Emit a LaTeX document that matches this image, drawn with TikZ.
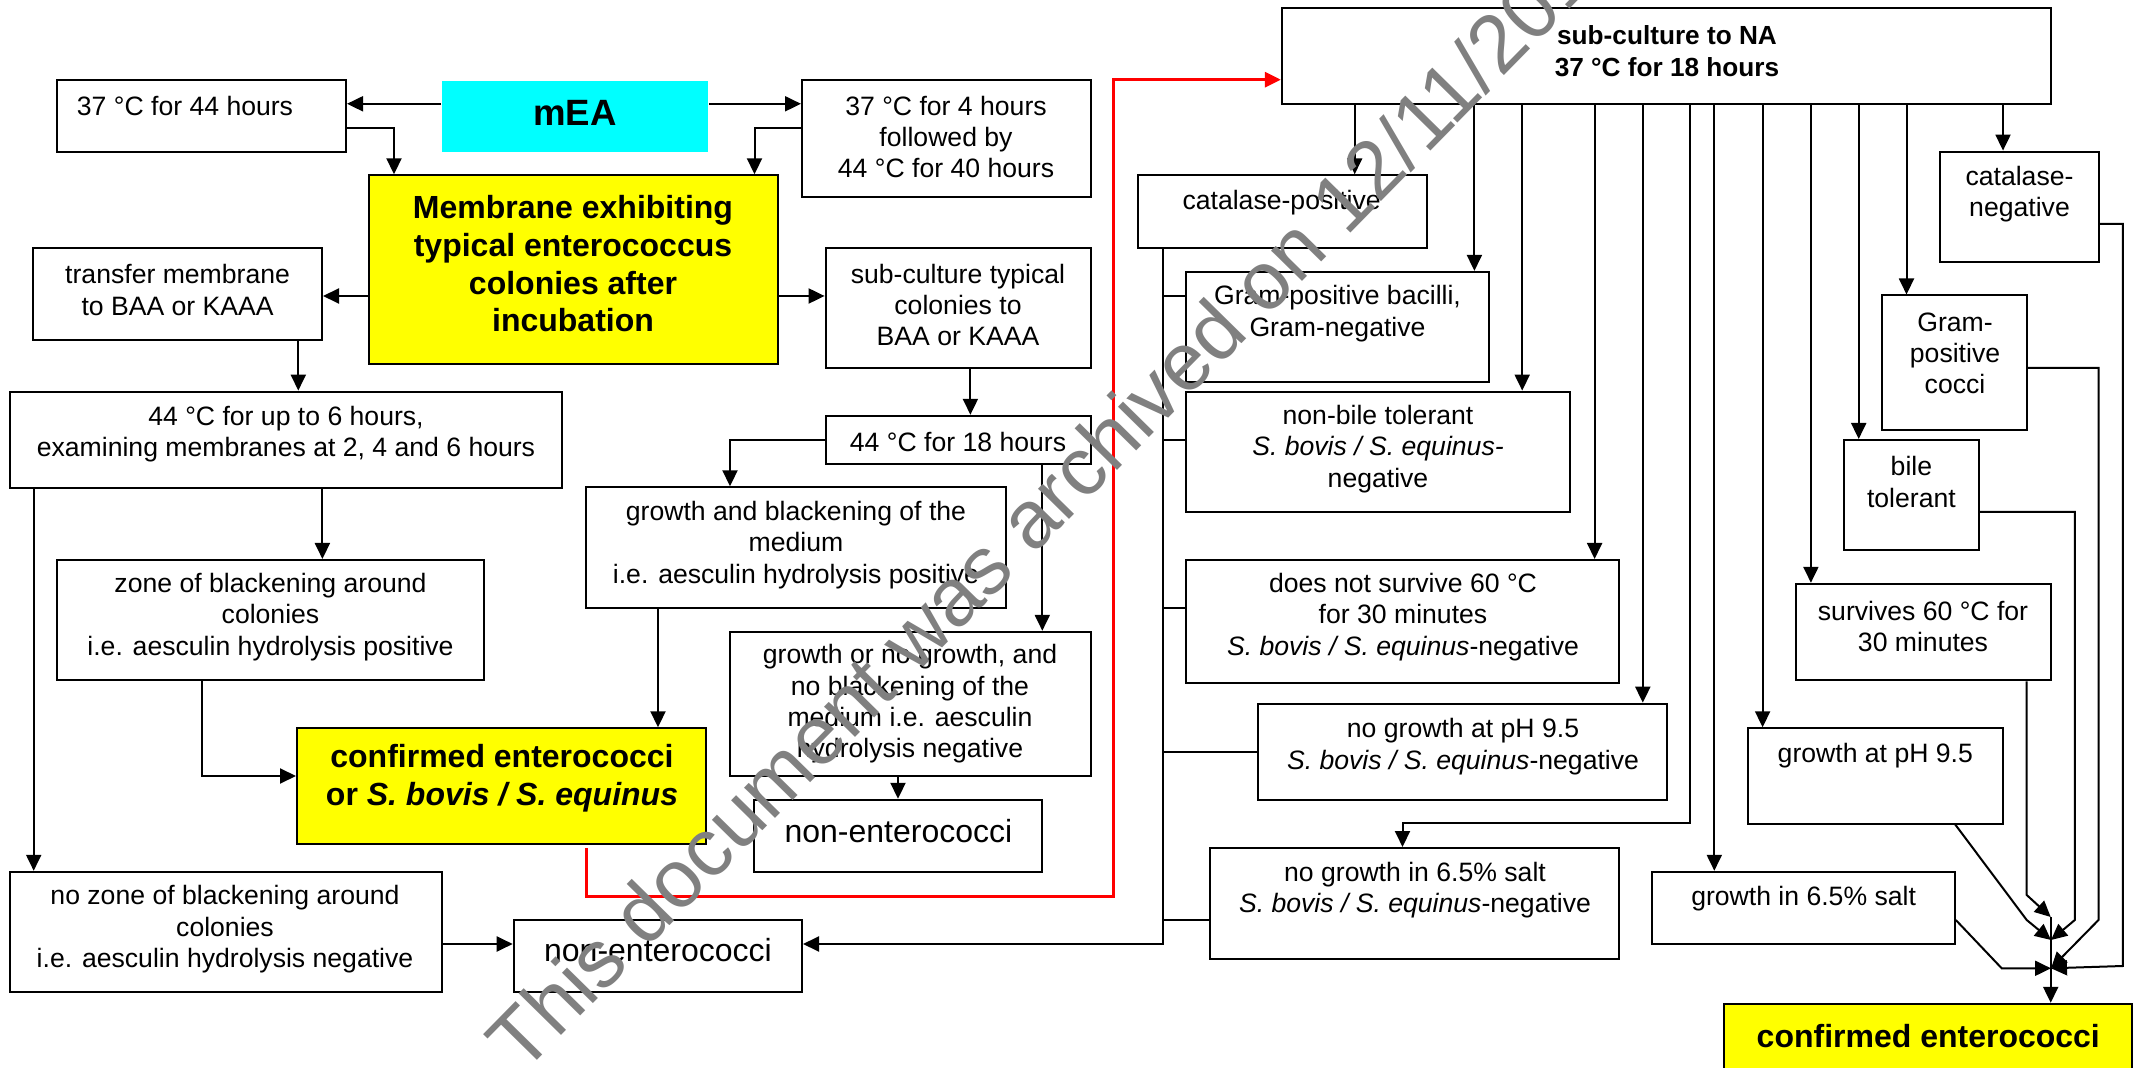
\documentclass[tikz,border=0pt]{standalone}
\usepackage{fontspec}
\setmainfont{Liberation Sans}
\usetikzlibrary{arrows.meta,fit}
\definecolor{wmgray}{RGB}{128,128,128}
\definecolor{boxyellow}{RGB}{255,255,0}
\definecolor{boxcyan}{RGB}{0,255,255}
\definecolor{linered}{RGB}{255,0,0}
\newcommand\bxx[6][]{\node[box,#1,fit={(#3,#4) (#5,#6)}] (#2) {};}
\begin{document}
\begin{tikzpicture}[x=0.5pt,y=-0.5pt,
 box/.style={draw,line width=1pt,inner sep=0pt},
 tx/.style={align=center,inner sep=0pt,font=\fontsize{13.3}{15.7}\selectfont},
 bt/.style={align=center,inner sep=0pt,font=\bfseries\fontsize{16}{18.85}\selectfont},
 nt/.style={align=center,inner sep=0pt,font=\fontsize{16}{19}\selectfont},
 ln/.style={line width=1pt},
 arr/.style={line width=1pt,-{Triangle[length=8pt,width=7.5pt]}},
 redarr/.style={line width=1.5pt,draw=linered,-{Triangle[length=8pt,width=7.5pt,fill=linered]}}]
\useasboundingbox (0,0) rectangle (2141,1068);
% ---------------- left part
\bxx{A}{57.4}{79.7}{346}{151.6}
\node[tx] (At) at (185,106) {37 °C for 44 hours};
\bxx[draw=none,fill=boxcyan]{mEA}{442}{80.6}{708}{152.5}
\node[inner sep=0pt,font=\bfseries\fontsize{18.3}{22}\selectfont] (mEAt) at (575,113) {mEA};
\bxx{B}{802}{79.7}{1090.6}{196.7}
\node[tx] (Bt) at (946,137) {37 °C for 4 hours\\followed by\\44 °C for 40 hours};
\bxx[fill=boxyellow]{M}{369}{175.3}{778.2}{364.3}
\node[bt] (Mt) at (573,264) {Membrane exhibiting\\typical enterococcus\\colonies after\\incubation};
\bxx{T}{33.2}{247.7}{322}{340.2}
\node[tx] (Tt) at (177.6,290) {transfer membrane\\to BAA or KAAA};
\bxx{S}{825.6}{247.7}{1090.6}{368}
\node[tx] (St) at (958,305) {sub-culture typical\\colonies to\\BAA or KAAA};
\bxx{Hsix}{9.6}{391.6}{562.4}{488}
\node[tx] (Hsixt) at (286,434) {44 °C for up to 6 hours,\\examining membranes at 2, 4 and 6 hours};
\bxx{Heit}{825.6}{415.8}{1090.6}{464}
\node[tx] (Heitt) at (958,441.7) {44 °C for 18 hours};
\bxx{GB}{586}{487.3}{1006}{608}
\node[tx] (GBt) at (796,545) {growth and blackening of the\\medium\\i.e. aesculin hydrolysis positive};
\bxx{Z}{57.4}{560}{483.6}{680}
\node[tx] (Zt) at (270.5,617) {zone of blackening around\\colonies\\i.e. aesculin hydrolysis positive};
\bxx{GN}{730}{631.8}{1090.6}{776}
\node[tx] (GNt) at (910,704) {growth or no growth, and\\no blackening of the\\medium i.e. aesculin\\hydrolysis negative};
\bxx[fill=boxyellow]{C}{297}{728.3}{706.3}{844.4}
\node[bt] (Ct) at (502,778) {confirmed enterococci\\or \textit{S. bovis / S. equinus}};
\bxx{NEa}{754}{799.8}{1042.3}{871.8}
\node[nt] (NEat) at (898.4,830.8) {non-enterococci};
\bxx{NZ}{9.6}{871.8}{441.7}{991.5}
\node[tx] (NZt) at (225,929.3) {no zone of blackening around\\colonies\\i.e. aesculin hydrolysis negative};
\bxx{NEb}{513.7}{920}{802}{991.5}
\node[nt] (NEbt) at (658,950.5) {non-enterococci};
% ---------------- right part
\bxx{NA}{1281.8}{7.7}{2051}{103.8}
\node[align=center,inner sep=0pt,font=\bfseries\fontsize{13.1}{15.75}\selectfont] (NAt) at (1667,51.3) {sub-culture to NA\\37 °C for 18 hours};
\bxx{CP}{1138}{175.3}{1426.7}{248.2}
\node[tx] (CPt) at (1281.6,202.6) {catalase-positive};
\bxx{GBa}{1186}{271.9}{1488.5}{382.5}
\node[tx] (GBat) at (1337.5,313.5) {Gram-positive bacilli,\\Gram-negative};
\bxx{NB}{1186}{391.6}{1570.4}{512.3}
\node[tx] (NBt) at (1378,449) {non-bile tolerant\\\textit{S. bovis / S. equinus-}\\negative};
\bxx{DS}{1186}{560}{1618.7}{683}
\node[tx] (DSt) at (1403,617) {does not survive 60 °C\\for 30 minutes\\\textit{S. bovis / S. equinus}-negative};
\bxx{NP}{1258}{703.7}{1666.5}{799.8}
\node[tx] (NPt) at (1463,746.8) {no growth at pH 9.5\\\textit{S. bovis / S. equinus}-negative};
\bxx{NS}{1210}{848}{1618.7}{959}
\node[tx] (NSt) at (1415,890) {no growth in 6.5\% salt\\\textit{S. bovis / S. equinus}-negative};
\bxx{CN}{1939.8}{151.6}{2098.7}{262.3}
\node[tx] (CNt) at (2019.5,194) {catalase-\\negative};
\bxx{GC}{1882.4}{295.5}{2026.7}{430.3}
\node[tx] (GCt) at (1955,353.4) {Gram-\\positive\\cocci};
\bxx{BT}{1844}{440}{1978.5}{550}
\node[tx] (BTt) at (1911.4,482) {bile\\tolerant};
\bxx{SV}{1795.9}{583.8}{2050.9}{680.3}
\node[tx] (SVt) at (1923,626.5) {survives 60 °C for\\30 minutes};
\bxx{GP}{1748}{728.3}{2003}{823.5}
\node[tx] (GPt) at (1875.3,755.6) {growth at pH 9.5};
\bxx{GS}{1652}{871.8}{1954.8}{944}
\node[tx] (GSt) at (1803.6,899) {growth in 6.5\% salt};
\bxx[fill=boxyellow]{CE}{1723.5}{1003.8}{2132.4}{1090}
\node[bt] (CEt) at (1928.3,1035.7) {confirmed enterococci};
% ---------------- connectors left
\draw[arr] (mEA.west |- 0,103.8) -- (A.east |- 0,103.8);
\draw[arr] (mEA.east |- 0,103.8) -- (B.west |- 0,103.8);
\draw[arr] (A.east |- 0,128) -| (394,0 |- M.north);
\draw[arr] (B.west |- 0,128) -| (754.5,0 |- M.north);
\draw[arr] (M.west |- 0,296) -- (T.east |- 0,296);
\draw[arr] (M.east |- 0,296) -- (S.west |- 0,296);
\draw[arr] (298.3,0 |- T.south) -- (298.3,0 |- Hsix.north);
\draw[arr] (970.4,0 |- S.south) -- (970.4,0 |- Heit.north);
\draw[arr] (Heit.west |- 0,440) -| (730,0 |- GB.north);
\draw[arr] (1042.3,0 |- Heit.south) -- (1042.3,0 |- GN.north);
\draw[arr] (322.4,0 |- Hsix.south) -- (322.4,0 |- Z.north);
\draw[arr] (33.7,0 |- Hsix.south) -- (33.7,0 |- NZ.north);
\draw[arr] (201.7,0 |- Z.south) |- (C.west |- 0,776);
\draw[arr] (658,0 |- GB.south) -- (658,0 |- C.north);
\draw[arr] (898,0 |- GN.south) -- (898,0 |- NEa.north);
\draw[arr] (NZ.east |- 0,944) -- (NEb.west |- 0,944);
\draw[redarr] (586,848) -- (586,896) -- (1113.8,896) -- (1113.8,79.7) -- (NA.west |- 0,79.7);
% ---------------- connectors right
\foreach \xx/\tg in {1354.7/CP,1474.4/GBa,1522.2/NB,1594.6/DS,1642.8/NP,1714.3/GS,1762.6/GP,1810.9/SV,1858.7/BT,1906.5/GC,2003/CN}
  \draw[arr] (\xx,0 |- NA.south) -- (\xx,0 |- \tg.north);
\draw[arr] (1690.2,0 |- NA.south) -- (1690.2,823) -- (1402.5,823) -- (1402.5,0 |- NS.north);
\draw[arr] (1162.5,0 |- CP.south) -- (1162.5,944) -- (NEb.east |- 0,944);
\foreach \yy/\tg in {296/GBa,440/NB,608/DS,751.5/NP,920/NS}
  \draw[ln] (1162.5,\yy) -- (\tg.west |- 0,\yy);
\coordinate (jA) at (2050.7,917);
\coordinate (jB) at (2051,940);
\coordinate (jC) at (2051,968.3);
\draw[arr] (2026.7,0 |- SV.south) -- (2026.7,895) -- (jA);
\draw[arr] (1955.2,0 |- GP.south) -- (2026.7,920) -- (jB);
\draw[arr] (BT.east |- 0,511.8) -- (2074.8,511.8) -- (2074.8,920) -- (jB);
\draw[arr] (GC.east |- 0,368) -- (2098.5,368) -- (2098.5,920) -- (jC);
\draw[arr] (CN.east |- 0,224) -- (2122.8,224) -- (2122.8,966) -- (jC);
\draw[arr] (GS.east |- 0,920) -- (2001.7,968.3) -- (jC);
\draw[arr] (jA) -- (2050.7,0 |- CE.north);
% ---------------- watermark
\node[anchor=base west,rotate=45.5,text=wmgray,inner sep=0pt,font=\fontsize{41}{49}\selectfont] (wmk) at (522,1076) {This document was archived on 12/11/201};
\end{tikzpicture}
\end{document}
